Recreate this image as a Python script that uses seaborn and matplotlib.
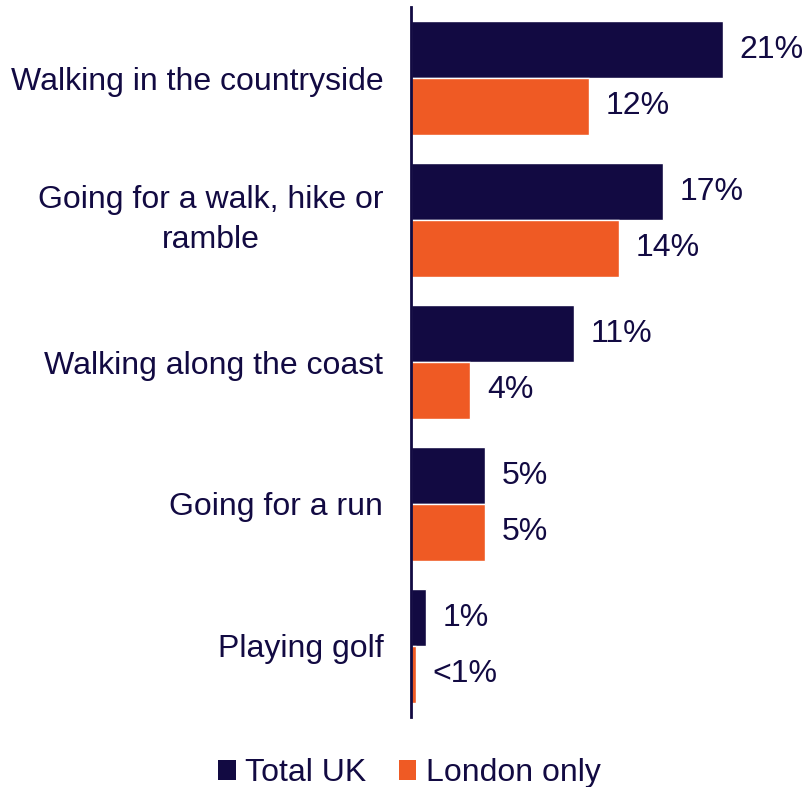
import matplotlib
matplotlib.use("Agg")
import matplotlib.pyplot as plt
from matplotlib.patches import Patch
import seaborn as sns
import pandas as pd

activities = [
    "Walking in the countryside",
    "Going for a walk, hike or\nramble",
    "Walking along the coast",
    "Going for a run",
    "Playing golf",
]
total_uk = [21, 17, 11, 5, 1]
london_only = [12, 14, 4, 5, 0.3]
total_labels = ["21%", "17%", "11%", "5%", "1%"]
london_labels = ["12%", "14%", "4%", "5%", "<1%"]
series_names = ["Total UK", "London only"]

NAVY = "#120A42"
ORANGE = "#EF5A24"
FS = 23

df = pd.DataFrame({
    "activity": activities * 2,
    "share": total_uk + london_only,
    "group": [series_names[0]] * len(activities) + [series_names[1]] * len(activities),
})

sns.set_style("white")
plt.rcParams["font.family"] = ["Liberation Sans", "DejaVu Sans"]

fig = plt.figure(figsize=(8.06, 7.87), dpi=100)
ax = fig.add_axes([0.51, 0.089, 0.4826, 0.902])

sns.barplot(
    data=df, y="activity", x="share", hue="group", order=activities,
    hue_order=series_names, palette=[NAVY, ORANGE], width=0.8,
    orient="h", saturation=1, legend=False, ax=ax,
)

# value labels at the end of each bar
for container, labels in zip(ax.containers, [total_labels, london_labels]):
    ax.bar_label(container, labels=labels, padding=12, fontsize=FS, color=NAVY)

ax.set_xlim(0, 26.2)
ax.set_ylim(4.5, -0.5)
ax.set_xlabel("")
ax.set_ylabel("")
ax.set_xticks([])
ax.tick_params(axis="y", length=0, pad=20, labelsize=FS, labelcolor=NAVY)
for lbl in ax.get_yticklabels():
    lbl.set_horizontalalignment("right")
    lbl.set_multialignment("center")
    lbl.set_linespacing(1.4)
    if "\n" in lbl.get_text():
        lbl.set_verticalalignment("center")

for side in ["top", "right", "bottom"]:
    ax.spines[side].set_visible(False)
ax.spines["left"].set_color(NAVY)
ax.spines["left"].set_linewidth(2)

handles = [Patch(facecolor=NAVY, edgecolor="none"), Patch(facecolor=ORANGE, edgecolor="none")]
fig.legend(
    handles, series_names, loc="center", bbox_to_anchor=(0.508, 0.0175),
    ncol=2, frameon=False, fontsize=FS, handlelength=0.55, handleheight=0.55,
    handletextpad=0.3, columnspacing=1.0, labelcolor=NAVY,
)

fig.savefig("out.png", dpi=100)
